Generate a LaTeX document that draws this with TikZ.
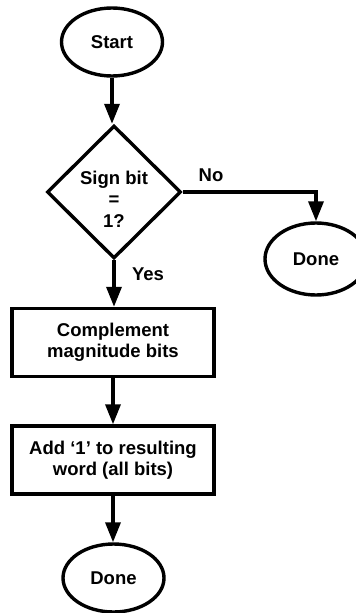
\documentclass[tikz,border=0pt]{standalone}
\usepackage{fontspec}
\setmainfont{Liberation Sans}
\usetikzlibrary{shapes.geometric,arrows.meta}
\begin{document}
\begin{tikzpicture}[x=1pt,y=-1pt,
  every node/.style={font=\fontsize{18.5}{21.5}\selectfont\bfseries, align=center},
  term/.style={draw, ellipse, line width=3.4pt, minimum width=101pt, minimum height=68pt, inner sep=0pt},
  proc/.style={draw, rectangle, line width=3.4pt, minimum width=202pt, minimum height=68pt, inner sep=0pt},
  decide/.style={draw, diamond, line width=3.4pt, minimum width=134pt, minimum height=133pt, inner sep=0pt},
  conn/.style={line width=3.4pt, -{Triangle[length=20pt,width=15pt]}},
  lbl/.style={inner sep=0pt}
]
\useasboundingbox (0,0) rectangle (356,613);
\clip (0,0) rectangle (356,613);
\node[term] (start) at (112,42) {Start};
\node[decide] (dec) at (114,192) {};
\node[lbl] (dectext) at (114,199) {Sign bit\\=\\1?};
\node[term, minimum width=102pt, minimum height=72pt] (done1) at (316,259) {Done};
\node[proc] (box1) at (113,342.5) {Complement\\magnitude bits};
\node[proc] (box2) at (113,460) {Add ‘1’ to resulting\\word (all bits)};
\node[term] (done2) at (113.5,578) {Done};
\node[lbl] (no) at (211,175) {No};
\node[lbl] (yes) at (148,274) {Yes};
\draw[conn] (start.south) -- (start.south |- dec.north);
\draw[conn] (dec.east) -| (done1.north);
\draw[conn] (dec.south) -- (dec.south |- box1.north);
\draw[conn] (box1.south) -- (box1.south |- box2.north);
\draw[conn] (box2.south) -- (box2.south |- done2.north);
\end{tikzpicture}
\end{document}
